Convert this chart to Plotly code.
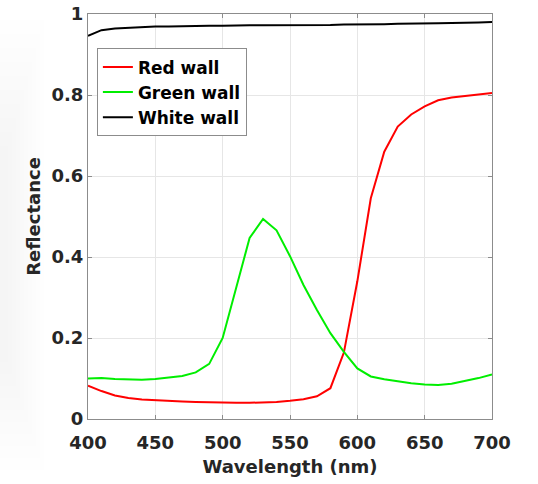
import plotly.graph_objects as go

wavelength = [400, 410, 420, 430, 440, 450, 460, 470, 480, 490, 500, 510, 520, 530, 540, 550,
              560, 570, 580, 590, 600, 610, 620, 630, 640, 650, 660, 670, 680, 690, 700]

red_wall = [0.082, 0.069, 0.058, 0.052, 0.048, 0.046, 0.044, 0.043, 0.042, 0.041, 0.041, 0.040,
            0.040, 0.041, 0.042, 0.045, 0.049, 0.056, 0.076, 0.164, 0.340, 0.545, 0.660, 0.722,
            0.752, 0.772, 0.787, 0.794, 0.798, 0.801, 0.805]

green_wall = [0.100, 0.101, 0.099, 0.098, 0.097, 0.099, 0.102, 0.106, 0.115, 0.136, 0.200, 0.322,
              0.447, 0.494, 0.466, 0.402, 0.331, 0.269, 0.212, 0.166, 0.125, 0.105, 0.098, 0.093,
              0.088, 0.085, 0.084, 0.087, 0.094, 0.101, 0.110]

white_wall = [0.946, 0.960, 0.964, 0.966, 0.967, 0.969, 0.969, 0.970, 0.970, 0.971, 0.971, 0.972,
              0.972, 0.972, 0.972, 0.972, 0.973, 0.973, 0.973, 0.974, 0.974, 0.975, 0.975, 0.976,
              0.976, 0.977, 0.977, 0.978, 0.978, 0.979, 0.980]

series_names = ["Red wall", "Green wall", "White wall"]
series_colors = ["#ff0000", "#00ee00", "#000000"]

x_ticks = [400, 450, 500, 550, 600, 650, 700]
y_ticks = [0, 0.2, 0.4, 0.6, 0.8, 1]
y_tick_labels = ["0", "0.2", "0.4", "0.6", "0.8", "1"]

FONT = "DejaVu Sans, Verdana, sans-serif"
TXT = "#262626"

W, H = 538, 484
ML, MR, MT, MB = 88, 46, 14, 65
PW, PH = W - ML - MR, H - MT - MB

fig = go.Figure()
for name, vals, col in zip(series_names, [red_wall, green_wall, white_wall], series_colors):
    fig.add_trace(go.Scatter(x=wavelength, y=vals, mode="lines", name=name,
                             line=dict(color=col, width=2)))

axis_common = dict(
    showgrid=True, gridcolor="#e6e6e6", gridwidth=1,
    showline=True, linecolor="#8c8c8c", linewidth=1, mirror="allticks",
    ticks="inside", ticklen=4, tickcolor="#8c8c8c",
    zeroline=False, automargin=False, ticklabeloverflow="allow",
    tickfont=dict(family=FONT, size=18, color=TXT, weight="bold"),
)

fig.update_xaxes(range=[400, 700], tickvals=x_ticks, ticklabelstandoff=7,
                 title=dict(text="Wavelength (nm)", standoff=8,
                            font=dict(family=FONT, size=18, color=TXT, weight="bold")),
                 **axis_common)
fig.update_yaxes(range=[0, 1], tickvals=y_ticks, ticktext=y_tick_labels,
                 title=dict(text="Reflectance", standoff=6,
                            font=dict(family=FONT, size=18, color=TXT, weight="bold")),
                 **axis_common)

# very faint, soft screenshot shadow along the left edge (nested translucent bands)
n_bands = 10
for k in range(n_bands):
    w_px = 44 - k * 4
    top_px = 20 + k * 14
    bot_px = 470 - k * 12
    fig.add_shape(type="rect", xref="paper", yref="paper",
                  x0=(0 - ML) / PW, x1=(w_px - ML) / PW,
                  y0=(H - MB - bot_px) / PH, y1=(H - MB - top_px) / PH,
                  fillcolor="rgba(0,0,0,0.005)", line_width=0, layer="below")

fig.update_layout(
    width=W, height=H,
    margin=dict(l=ML, r=MR, t=MT, b=MB),
    paper_bgcolor="white", plot_bgcolor="white",
    legend=dict(x=0.022, y=0.915, xanchor="left", yanchor="top",
                bgcolor="white", bordercolor="#8c8c8c", borderwidth=1,
                font=dict(family=FONT, size=17, color="#000000", weight="bold"),
                itemwidth=30, tracegroupgap=0),
    showlegend=True,
)

fig.write_html("out.html", config={"displayModeBar": False},
               post_script="document.body.style.margin='0';")
